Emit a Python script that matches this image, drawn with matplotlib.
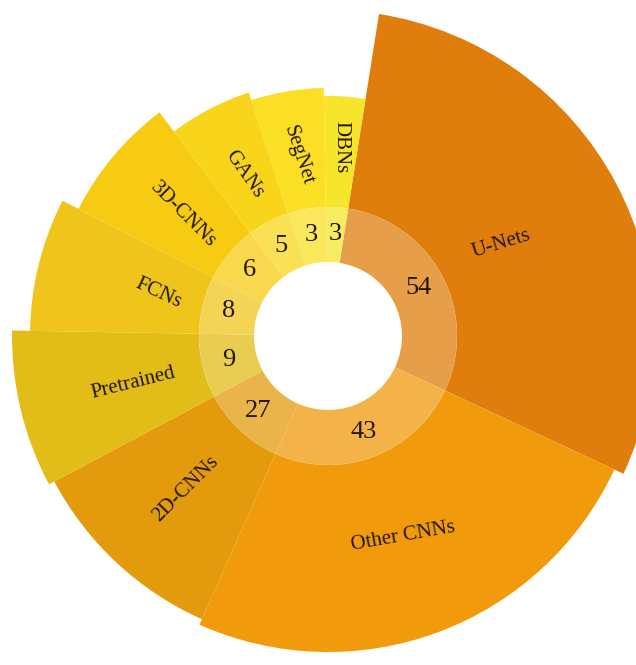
"""Rose chart of network types with counts on an inner ring."""

import numpy as np
import matplotlib
matplotlib.use('Agg')
import matplotlib.pyplot as plt
from matplotlib.colors import to_rgb

LABELS = ['U-Nets', 'Other CNNs', '2D-CNNs', 'Pretrained', 'FCNs',
          '3D-CNNs', 'GANs', 'SegNet', 'DBNs']
COUNTS = [54, 43, 27, 9, 8, 6, 5, 3, 3]
# angular span of each wedge in degrees (clockwise)
SPANS = [106, 89, 38, 29, 26, 26, 19, 17, 10]
# outer radius of each wedge
OUTER_R = [326, 316, 310, 316, 298, 280, 256, 248, 240]
COLORS = ['#df7e0c', '#f19a0b', '#e39b0d', '#e2bc17', '#f0c51b',
          '#f7cb12', '#f8d51a', '#fadf25', '#f6e52b']

START = 9  # degrees from 12 o'clock
HOLE_R = 74
RING_R = 129
RMAX = 330
LABEL_R = [196, 214, 209, 200, 175, 189, 182, 183, 189]
LABEL_ROT = [17, 10, 45, 14, -25, -45, -55, -72, -90]
NUM_R = 102
TEXT_COLOR = '#22160a'
W, H = 636, 665
CX, CY = 328, 336  # centre in pixels, from top left


def lighten(color, amount):
  """Blend a colour towards white."""
  rgb = np.array(to_rgb(color))
  return tuple(rgb + (1 - rgb) * amount)


def build_chart():
  """Draw the chart and save it."""
  fig = plt.figure(figsize=(W / 100, H / 100), dpi=100)
  left = (CX - RMAX) / W
  bottom = (H - CY - RMAX) / H
  ax = fig.add_axes([left, bottom, 2 * RMAX / W, 2 * RMAX / H],
                    projection='polar')
  ax.set_theta_zero_location('N')
  ax.set_theta_direction(-1)
  ax.set_ylim(0, RMAX)
  ax.axis('off')

  spans = np.radians(SPANS)
  edges = np.radians(START) + np.concatenate([[0], np.cumsum(spans)[:-1]])
  mids = edges + spans / 2

  ax.bar(mids, np.array(OUTER_R) - RING_R, width=spans, bottom=RING_R,
         color=COLORS, linewidth=0, align='center')
  ring_colors = [lighten(c, 0.25) for c in COLORS]
  ax.bar(mids, RING_R - HOLE_R, width=spans, bottom=HOLE_R,
         color=ring_colors, linewidth=0, align='center')

  for mid, lab, r, rot, n in zip(mids, LABELS, LABEL_R, LABEL_ROT, COUNTS):
    ax.text(mid, r, lab, rotation=rot, rotation_mode='anchor',
            ha='center', va='center', fontsize=15,
            family='Liberation Serif', color=TEXT_COLOR)
    ax.text(mid, NUM_R, str(n), ha='center', va='center', fontsize=19,
            family='Liberation Serif', color=TEXT_COLOR)

  fig.savefig('out.png', dpi=100, facecolor='white')


if __name__ == '__main__':
  build_chart()
